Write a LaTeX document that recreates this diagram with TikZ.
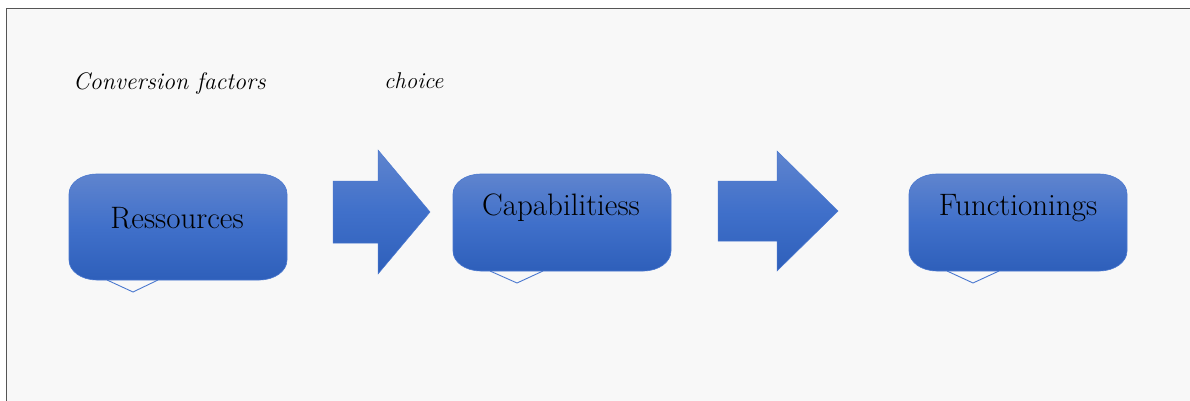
\documentclass[tikz,border=0pt]{standalone}
\usepackage{fontspec}
\definecolor{bgc}{HTML}{F8F8F8}
\definecolor{framec}{HTML}{555555}
\definecolor{btop}{HTML}{5F84CE}
\definecolor{bmid}{HTML}{4070CA}
\definecolor{bbot}{HTML}{2E5FBA}
\definecolor{bline}{HTML}{4A78CF}
\tikzset{
  boxfill/.style={top color=btop, bottom color=bbot, middle color=bmid, draw=bline, line width=0.6pt},
  pointer/.style={draw=bline, line width=0.9pt, line join=miter},
  arrowfill/.style={top color=btop, bottom color=bbot, middle color=bmid, draw=bline, line width=0.5pt},
  boxtext/.style={font=\fontsize{31}{36}\selectfont, text=black, anchor=base, inner sep=0pt},
  labeltext/.style={font=\itshape\fontsize{23.9}{28}\selectfont, text=black, anchor=base west, inner sep=0pt}
}
% rounded box: x0, y0, x1, y1
\newcommand{\calloutbox}[4]{%
  \path[boxfill] (#1+28,#2) -- (#3-28,#2)
    .. controls (#3-12,#2) and (#3,#2+9) .. (#3,#2+20)
    -- (#3,#4-20)
    .. controls (#3,#4-9) and (#3-12,#4) .. (#3-28,#4)
    -- (#1+28,#4)
    .. controls (#1+12,#4) and (#1,#4-9) .. (#1,#4-20)
    -- (#1,#2+20)
    .. controls (#1,#2+9) and (#1+12,#2) .. (#1+28,#2) -- cycle;}
\begin{document}
\begin{tikzpicture}[x=1pt,y=-1pt]
\useasboundingbox (0,0) rectangle (1190,401);
\fill[white] (0,0) rectangle (1190,401);
\fill[bgc] (6.5,8.5) rectangle (1190,401);
\draw[framec, line width=1.2pt] (6.5,401) -- (6.5,8.5) -- (1190,8.5);

% labels
\node[labeltext] (conv) at (73,90) {Conversion factors};
\node[labeltext, font=\itshape\fontsize{22.8}{27}\selectfont] (choice) at (384,89) {choice};

% box 1
\draw[pointer] (107,280) -- (133,292) -- (158,280);
\calloutbox{69}{174}{287}{280}
\node[boxtext] (res) at (177,228) {Ressources};

% arrow 1
\path[arrowfill] (333,181) -- (378,181) -- (378,150) -- (430,212) -- (378,274) -- (378,243) -- (333,243) -- cycle;

% box 2
\draw[pointer] (490,271) -- (517,283) -- (543,271);
\calloutbox{453}{174}{671}{271}
\node[boxtext] (cap) at (561,215) {Capabilitiess};

% arrow 2
\path[arrowfill] (718,181) -- (777,181) -- (777,151) -- (838,211) -- (777,271) -- (777,241) -- (718,241) -- cycle;

% box 3
\draw[pointer] (947,271) -- (973,283) -- (999,271);
\calloutbox{909}{174}{1127}{271}
\node[boxtext] (fun) at (1018,215) {Functionings};
\end{tikzpicture}
\end{document}
